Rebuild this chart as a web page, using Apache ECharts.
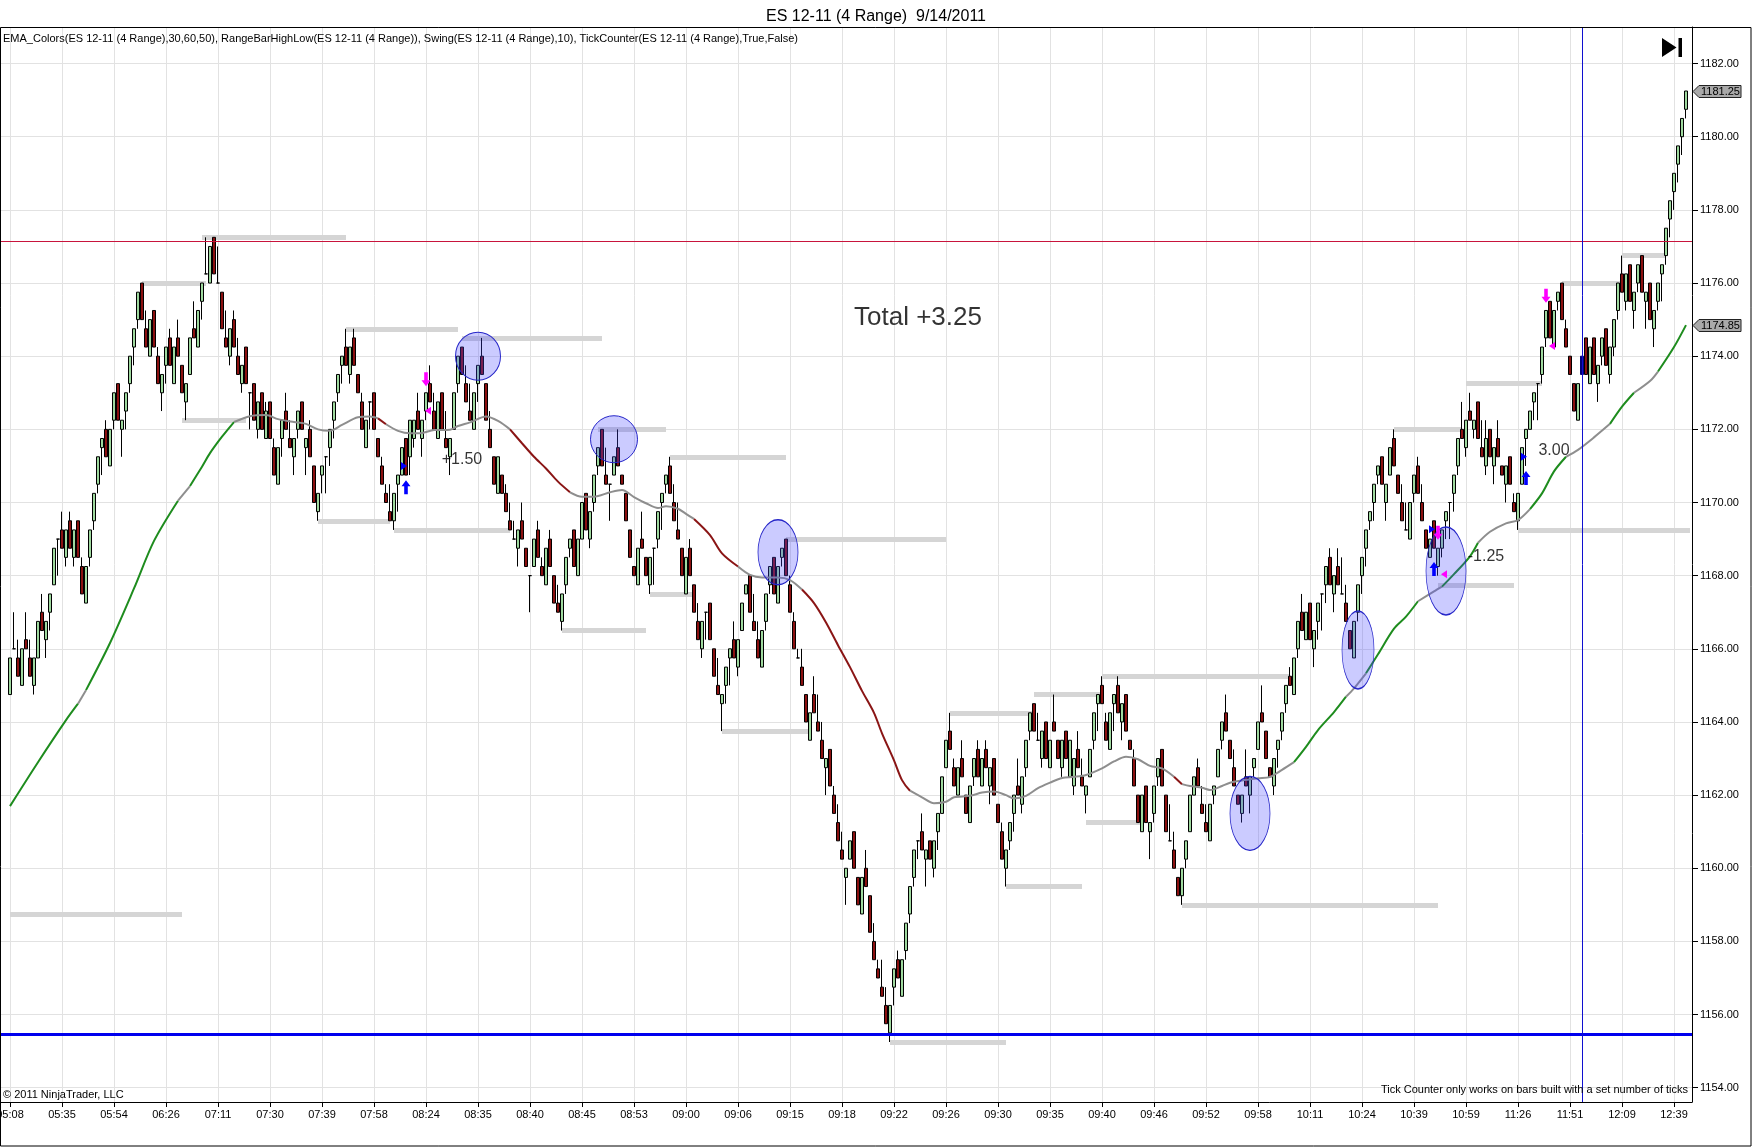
<!DOCTYPE html>
<html>
<head>
<meta charset="utf-8">
<script src="https://cdn.jsdelivr.net/npm/echarts@6.0.0/dist/echarts.min.js"></script>
<style>
html,body{margin:0;padding:0;background:#fff;}
#chart{width:1752px;height:1147px;}
</style>
</head>
<body>
<div id="chart"></div>
<script>
// ---------------- DATA ----------------
const titleText = 'ES 12-11 (4 Range)  9/14/2011';
const indicatorText = 'EMA_Colors(ES 12-11 (4 Range),30,60,50), RangeBarHighLow(ES 12-11 (4 Range)), Swing(ES 12-11 (4 Range),10), TickCounter(ES 12-11 (4 Range),True,False)';
const timeLabels = ['05:08','05:35','05:54','06:26','07:11','07:30','07:39','07:58','08:24','08:35','08:40','08:45','08:53','09:00','09:06','09:15','09:18','09:22','09:26','09:30','09:35','09:40','09:46','09:52','09:58','10:11','10:24','10:39','10:59','11:26','11:51','12:09','12:39'];
const yTicks = [1154,1156,1158,1160,1162,1164,1166,1168,1170,1172,1174,1176,1178,1180,1182];

const open = [
1164.75,1166,1165.75,1165,1166.25,1165.75,1165,1165.75,1167,1166.25,
1167,1167.75,1169,1169.25,1168.5,1169.5,1168.5,1169.5,1168.25,1167.25,
1168.5,1169.5,1170.5,1171.5,1172,1171,1172.25,1173.25,1172,1172.5,
1173.25,1174.25,1175,1176,1174.75,1174,1175.25,1174,1173,1173.75,
1174.5,1173.25,1174.5,1173.75,1172.75,1173.5,1174.75,1174.25,1175.5,1176.25,
1176,1177.25,1176,1175.75,1174.5,1174,1175,1174,1173.25,1174.25,
1173,1173.25,1172,1173,1171.75,1172.75,1171.5,1170.5,1171.75,1172.5,
1171.75,1171.25,1172,1172.75,1171.5,1172,1171,1169.75,1170.75,1171.25,
1171.5,1172.25,1173,1173.75,1174.25,1173.5,1174.5,1173.5,1172.75,1171.5,
1172.75,1173,1171.75,1171,1170.25,1169.75,1169.5,1170.5,1170.75,1171.75,
1171.25,1171.75,1172.5,1171.75,1172.5,1173.25,1172.5,1171.75,1173,1171.75,
1171.25,1172,1173.25,1174.25,1173.25,1172.5,1172,1173.25,1174,1173.25,
1172,1171.25,1170.25,1170.75,1170.25,1169.5,1169,1168.75,1169.5,1168.75,
1168,1168.25,1169.25,1168.25,1167.75,1169,1168,1167.25,1166.75,1167.75,
1168.75,1169.25,1168,1169,1170.25,1169,1170,1171,1172,1170.75,
1170.5,1170.75,1171.5,1170.75,1170.25,1169.25,1168.25,1167.75,1169,1168.5,
1167.75,1168.75,1169,1170,1170.5,1171,1170,1169.25,1168.75,1167.5,
1168.75,1167.75,1166.75,1166,1167,1167.25,1166,1165,1164.5,1165,
1165.75,1166.25,1165.5,1166.5,1167.5,1168,1166.75,1166.25,1165.5,1166.75,
1167.75,1168.5,1167.25,1168.5,1169,1167.75,1166.75,1165.75,1165.5,1164.75,
1163.5,1164.75,1164,1163.5,1162.75,1163.25,1162,1161.25,1160.5,1159.75,
1160.25,1161,1159.75,1158.75,1160,1159.25,1158,1157.25,1156.75,1156.25,
1155.5,1156.75,1157.5,1156.5,1157.75,1158.75,1159.75,1160.75,1161,1160.25,
1160.75,1160,1161,1161.5,1162.75,1163.75,1162.75,1162,1163,1162,
1161.25,1162.5,1163.25,1162.25,1163.25,1162.25,1163,1161.75,1161,1160,
1160.75,1161.5,1162.25,1161.75,1162.75,1163.75,1164.5,1163.5,1163,1164,
1162.75,1164,1163.5,1162.75,1163.75,1162.5,1162.25,1163.25,1162.5,1162,
1162.5,1163.5,1164.5,1165,1164,1163.25,1164.5,1165,1164,1164.75,
1163.5,1163,1162,1161,1162.25,1161,1161.5,1162.5,1163.25,1162,
1160.75,1160.5,1159.75,1159.25,1160.25,1161,1162,1162.75,1161.75,1161.25,
1160.75,1162,1162.5,1163.5,1164.25,1163.5,1162.75,1162,1161.5,1162.5,
1162,1162.75,1163.25,1164.25,1163.75,1162.75,1162.25,1163.25,1163.75,1164.5,
1165.25,1164.75,1166,1167,1166.25,1167.25,1166,1166.75,1167.5,1167.75,
1168.5,1167.5,1168.25,1167.5,1167.25,1166.5,1165.75,1167,1168,1168.75,
1169.5,1170,1170.75,1171.25,1170,1170.75,1171.75,1170.75,1170,1169.25,
1169,1170.25,1171,1170,1169.25,1168.5,1169.5,1168.25,1168.75,1169.5,
1170,1170.25,1171,1172,1171.5,1172.5,1172,1172.75,1171.5,1171,
1172,1171,1171.75,1171,1170.5,1171.25,1170,1169.5,1170.5,1171.75,
1172,1172.75,1173.25,1173.5,1174.5,1175.5,1174.25,1175.5,1176,1174.75,
1174,1173.25,1172.25,1173.5,1174.5,1173.25,1174.5,1173.25,1174,1174.75,
1173.5,1174.25,1175.25,1176.25,1175.5,1176.5,1175.25,1176,1176.75,1175.5,
1176,1174.75,1175.5,1176.25,1176.75,1177.75,1178.5,1179.25,1180,1180.75
];
const close = [
1165.75,1166,1165.25,1166,1166,1165.25,1165.75,1166.75,1166.5,1166.75,
1167.5,1168.75,1169,1168.75,1169.25,1168.75,1169.25,1168.5,1167.5,1168.25,
1169.25,1170.25,1171.25,1171.75,1171.25,1172,1173,1172.25,1172.25,1173,
1174,1174.75,1175.75,1175,1174.25,1175,1174.25,1173.25,1173.5,1174.25,
1173.75,1174.25,1174,1173,1173.25,1174.5,1174.5,1175.25,1176,1176.25,
1177,1176.25,1176,1174.75,1174.25,1174.75,1174.25,1173.5,1173.75,1173.25,
1173,1172.25,1172.75,1172,1172.5,1171.75,1170.75,1171.5,1172.25,1172,
1171.5,1171.75,1172.5,1172,1171.75,1171.25,1170,1170.25,1171,1171.25,
1172,1172.75,1173.5,1174,1173.75,1174.25,1173.75,1173,1172,1172.25,
1172.75,1172,1171.25,1170.5,1170,1169.5,1170.25,1170.75,1171.5,1170.75,
1172.25,1172.25,1172,1172.25,1173,1172.75,1172,1172.75,1172,1171.5,
1171.75,1173,1174,1173.5,1172.75,1172.25,1173,1173.75,1173.5,1172.25,
1171.5,1170.5,1171.25,1170.25,1169.75,1169.25,1169,1169.25,1169,1168.25,
1168,1169,1168.5,1168,1168.75,1168.25,1167.25,1167,1167.5,1168.5,
1169,1168.25,1169,1170,1169.25,1169.75,1170.75,1171.5,1171,1170.5,
1170.5,1171.25,1171,1170.5,1169.5,1168.5,1168,1168.75,1168.75,1168,
1168.5,1168.75,1169.75,1170.25,1170.75,1170.25,1169.5,1169,1168,1168.5,
1168,1167,1166.25,1166.75,1167,1166.25,1165.25,1164.75,1164.75,1165.5,
1166,1165.75,1166.25,1167.25,1167.75,1167,1166.5,1165.75,1166.5,1167.5,
1168.25,1167.5,1168.25,1168.75,1168,1167,1166,1165.75,1165,1164,
1164.25,1164.25,1163.75,1163,1163,1162.25,1161.5,1160.75,1160.25,1160,
1160.75,1160,1159,1159.75,1159.5,1158.25,1157.5,1157,1156.5,1155.75,
1156.25,1157.25,1157,1157.5,1158.5,1159.5,1160.5,1160.75,1160.5,1160.5,
1160.25,1160.75,1161.5,1162.5,1163.5,1163.25,1162.25,1162.75,1162.5,1161.5,
1162.25,1163,1162.5,1163,1162.75,1162.75,1162,1161.25,1160.25,1160.5,
1161.25,1162,1162,1162.5,1163.5,1164.25,1163.75,1163.5,1163.75,1163,
1163.5,1163.75,1163,1163.5,1163,1163.5,1163,1162.75,1162.25,1162.25,
1163.25,1164.25,1164.75,1164.5,1163.5,1164.25,1164.75,1164.25,1164.5,1163.75,
1163.25,1162.25,1161.25,1162,1161.25,1161.25,1162.25,1163,1162.25,1161,
1160.75,1160,1159.25,1160,1160.75,1162,1162.5,1162.25,1161.5,1161,
1161.75,1162.25,1163.25,1164,1163.75,1163,1162.25,1161.75,1162,1162.25,
1162.5,1163,1164,1164,1163,1162.5,1163,1163.5,1164.25,1165,
1165,1165.75,1166.75,1166.5,1167,1166.25,1166.5,1167.25,1167.5,1168.25,
1167.75,1168,1167.75,1167.5,1166.75,1166,1166.75,1167.75,1168.5,1169.25,
1169.75,1170.5,1171,1170.5,1170.5,1171.5,1171,1170.25,1169.5,1169.25,
1170,1170.75,1170.25,1169.5,1168.75,1169,1168.75,1168.75,1169.25,1169.75,
1170,1170.75,1171.75,1171.75,1172.25,1172.25,1172.25,1171.75,1171.25,1171.75,
1171.25,1171.5,1171.25,1170.75,1171,1170.5,1169.75,1170.25,1171.5,1172,
1172.5,1173,1173.25,1174.25,1175.25,1174.5,1175.25,1175.75,1175,1174.25,
1173.5,1172.5,1173.25,1174,1173.5,1174.25,1173.5,1173.75,1174.5,1173.75,
1174.25,1175,1176,1175.75,1176.25,1175.5,1175.75,1176.5,1175.75,1175.75,
1175,1175.25,1176,1176.5,1177.5,1178.25,1179,1179.75,1180.5,1181.25
];
const high = [
1165.75,1167,1166.25,1166,1167,1166.25,1165.75,1166.75,1167.5,1166.75,
1167.5,1168.75,1169,1169.75,1169.25,1169.75,1169.25,1169.5,1168.5,1168.25,
1169.25,1170.25,1171.25,1171.75,1172.25,1172,1173,1173.25,1172.25,1173,
1174,1174.75,1175.75,1176,1175.25,1175,1175.25,1174.25,1173.5,1174.25,
1174.75,1174.25,1175,1173.75,1173.25,1174.5,1175.5,1175.25,1176,1177.25,
1177,1177.25,1177,1175.75,1175.25,1174.75,1175.25,1174.5,1173.75,1174.25,
1173,1173.25,1172.75,1173,1172.75,1172.75,1171.75,1171.5,1172.25,1173,
1172.25,1171.75,1172.5,1172.75,1171.75,1172.25,1171,1170.25,1171,1171.25,
1172,1172.75,1173.5,1174,1174.75,1174.25,1174.75,1173.5,1173,1172.25,
1172.75,1173,1171.75,1171.25,1170.5,1170.5,1170.25,1170.75,1171.5,1171.75,
1172.25,1172.25,1173,1172.25,1173,1173.75,1173,1172.75,1173,1172.5,
1171.75,1173,1174,1174.25,1173.75,1173.25,1173,1173.75,1174.5,1173.25,
1172.5,1171.25,1171.25,1170.75,1170.5,1170,1169.5,1169.25,1170,1168.75,
1168,1169,1169.5,1168.5,1168.75,1169.25,1168,1167.75,1167.5,1168.5,
1169,1169.25,1169,1170,1170.25,1169.75,1170.75,1171.5,1172,1171.5,
1170.5,1171.25,1172,1170.75,1170.25,1169.25,1168.25,1168.75,1169.75,1168.5,
1168.5,1168.75,1169.75,1170.25,1170.75,1171.25,1170.5,1170,1168.75,1168.5,
1169,1167.75,1167.25,1166.75,1167,1167.25,1166,1165.75,1164.75,1165.5,
1166,1166.75,1166.25,1167.25,1167.75,1168,1167.5,1166.75,1166.5,1167.5,
1168.25,1168.5,1168.25,1168.75,1169,1168,1167,1166,1166,1164.75,
1164.25,1165.25,1164.75,1164,1163,1163.25,1162.25,1161.75,1161,1160,
1160.75,1161,1159.75,1159.75,1160.5,1159.25,1158.5,1157.5,1157.5,1156.75,
1156.25,1157.25,1157.75,1157.5,1158.5,1159.5,1160.5,1160.75,1161.5,1160.5,
1160.75,1160.75,1161.5,1162.5,1163.5,1164.25,1163,1162.75,1163.5,1162,
1162.25,1163,1163.5,1163,1163.5,1162.75,1163,1161.75,1161.25,1160.5,
1161.25,1162,1163,1162.5,1163.5,1164.25,1164.5,1164.25,1163.75,1164,
1163.5,1164.75,1163.5,1163.5,1163.75,1163.5,1163,1163.75,1163,1162.25,
1163.25,1164.25,1164.75,1165.25,1164.25,1164.25,1164.75,1165.25,1164.5,1164.75,
1163.5,1163.25,1162,1162,1162.25,1161.25,1162.25,1163,1163.25,1162,
1161.75,1161,1159.75,1160,1160.75,1162,1162.5,1163,1162.25,1161.75,
1161.75,1162.25,1163.25,1164,1164.75,1163.5,1163.25,1162,1162,1163.25,
1162.5,1163,1164,1165,1163.75,1162.75,1163,1163.5,1164.25,1165,
1165.5,1165.75,1166.75,1167.5,1167,1167.25,1166.5,1167.25,1167.5,1168.25,
1168.75,1168,1168.75,1168.5,1167.75,1166.5,1166.75,1167.75,1168.5,1169.25,
1169.75,1170.5,1171,1171.25,1170.5,1171.5,1172,1170.75,1170.5,1170,
1170,1170.75,1171.25,1170.5,1169.25,1169,1169.5,1168.75,1169.25,1169.75,
1170,1170.75,1171.75,1172.75,1172.25,1173,1172.25,1172.75,1172.25,1172.25,
1172,1171.5,1172.25,1171,1171,1171.25,1170.25,1170.25,1171.5,1172,
1172.5,1173,1173.25,1174.25,1175.25,1175.5,1175.25,1175.75,1176,1175,
1174,1173.25,1173.25,1174,1174.5,1174.25,1174.5,1173.75,1174.5,1174.75,
1174.25,1175,1176,1176.75,1176.25,1176.5,1175.75,1176.5,1176.75,1175.75,
1176,1175.25,1176,1176.5,1177.5,1178.25,1179,1179.75,1180.5,1181.25
];
const low = [
1164.75,1166,1165.25,1165,1166,1165.25,1164.75,1165.75,1166.5,1165.75,
1166.5,1167.75,1168,1168.75,1168.25,1168.75,1168.25,1168.5,1167.5,1167.25,
1168.25,1169.25,1170.25,1170.75,1171.25,1171,1172,1172.25,1171.25,1172,
1173,1173.75,1174.75,1175,1174.25,1174,1174.25,1173.25,1172.5,1173.25,
1173.75,1173.25,1174,1173,1172.25,1173.5,1174.5,1174.25,1175,1176.25,
1176,1176.25,1176,1174.75,1174.25,1173.75,1174.25,1173.5,1173,1173.25,
1172,1172.25,1171.75,1172,1171.75,1171.75,1170.75,1170.5,1171.25,1172,
1171.5,1170.75,1171.75,1172,1170.75,1171.25,1170,1169.5,1170.25,1170.25,
1171,1171.75,1172.75,1173.25,1173.75,1173.25,1173.75,1173,1172,1171.5,
1172,1172,1171.25,1170.5,1170,1169.5,1169.25,1169.75,1170.75,1170.75,
1170.75,1171.5,1172,1171.25,1172.25,1172.75,1172,1171.75,1172,1171.5,
1170.75,1172,1173,1173.5,1172.75,1172.25,1172,1172.75,1173.5,1172.25,
1171.5,1170.5,1170.25,1170.25,1169.75,1169.25,1169,1168.25,1169,1168.25,
1167,1168.25,1168.5,1168,1167.75,1168.25,1167.25,1167,1166.5,1167.5,
1168.5,1168.25,1168,1169,1169.25,1168.75,1169.75,1170.75,1171,1170.5,
1169.5,1170.75,1171,1170.5,1169.5,1168.5,1168,1167.75,1168.75,1168,
1167.5,1167.75,1168.75,1169.25,1170.25,1170.25,1169.5,1169,1168,1167.5,
1168,1167,1166.25,1165.75,1166.25,1166.25,1165.25,1164.75,1163.75,1164.5,
1165,1165.75,1165.25,1166.5,1167.5,1167,1166.5,1165.75,1165.5,1166.5,
1167.5,1167.5,1167.25,1168.25,1168,1167,1166,1165.75,1165,1164,
1163.5,1164.25,1163.75,1163,1162,1162.25,1161.5,1160.75,1160.25,1159,
1160.25,1160,1159,1158.75,1159.5,1158.25,1157.5,1157,1156.5,1155.75,
1155.25,1156.25,1157,1156.5,1157.5,1158.5,1159.5,1160.25,1160.5,1159.5,
1160.25,1159.75,1160.5,1161.5,1162.75,1163.25,1162.25,1162,1162.5,1161.5,
1161.25,1162.25,1162.5,1162.25,1162.75,1161.75,1162,1161.25,1160.25,1159.5,
1160.5,1161,1162,1161.5,1162.5,1163.5,1163.75,1163.5,1162.75,1163,
1162.75,1163.75,1163,1162.5,1163,1162.5,1162,1162.75,1162.25,1161.5,
1162.5,1163.25,1163.75,1164.5,1163.5,1163.25,1163.75,1164.25,1163.5,1163.75,
1163.25,1162.25,1161.25,1161,1161.25,1160.25,1161.25,1162.25,1162.25,1161,
1160.75,1160,1159.25,1159,1160,1161,1162,1162.25,1161.5,1161,
1160.75,1161.75,1162.5,1163.25,1163.75,1163,1162.25,1161.75,1161.25,1162.25,
1161.5,1162.5,1163.25,1164,1163,1162.5,1162,1162.75,1163.5,1164.25,
1165,1164.75,1165.75,1166.5,1166.25,1166.25,1165.5,1166.25,1166.5,1167.25,
1167.75,1167,1167.75,1167.5,1166.75,1166,1165.75,1166.75,1167.5,1168.25,
1169.25,1169.5,1170.5,1170.5,1169.5,1170.75,1171,1170.25,1169.5,1169.25,
1169,1170,1170.25,1169.5,1168.75,1168.5,1168.75,1168,1168.5,1169,
1169,1169.75,1170.75,1171.75,1171.25,1172.25,1171.75,1171.75,1171.25,1170.75,
1171.25,1170.5,1171.25,1170.75,1170,1170.5,1169.75,1169.25,1170.5,1171,
1172,1172.25,1172.25,1173.25,1174.25,1174.5,1174.25,1175.25,1175,1174.25,
1173.5,1172.5,1172.25,1173.5,1173.5,1173.25,1173.5,1172.75,1173.75,1173.75,
1173.25,1174,1175,1175.75,1175.25,1175.5,1174.75,1175.75,1175.75,1174.75,
1175,1174.25,1175.25,1175.5,1176.5,1177.25,1178,1178.75,1179.5,1180.5
];

// EMA (at sample bars)
const emaBars = [0,7,14,17,19,25,31,36,42,45,48,50,53,56,60,64,67,71,74,77,80,83,87,90,92,94,97,100,103,106,110,112,115,119,122,125,128,131,134,137,140,143,146,150,153,156,159,162,164,167,169,171,175,178,182,185,188,192,195,198,201,204,207,210,213,216,218,221,223,225,228,231,234,236,240,243,246,249,251,254,257,260,263,266,269,273,276,279,282,285,288,291,293,295,298,300,303,305,308,312,315,318,321,324,327,331,334,336,339,342,346,349,352,356,358,361,365,367,370,374,377,380,383,386,389,392,396,400,403,406,410,412,416,419];
const emaValues = [1161.7,1162.9,1164.05,1164.5,1164.87,1166.16,1167.65,1168.95,1170.05,1170.45,1170.98,1171.35,1171.8,1172.2,1172.36,1172.39,1172.28,1172.2,1172.15,1172.0,1171.96,1172.12,1172.33,1172.35,1172.3,1172.14,1171.96,1171.89,1171.9,1171.98,1171.99,1172.09,1172.19,1172.35,1172.23,1172.0,1171.62,1171.25,1170.93,1170.57,1170.28,1170.16,1170.16,1170.28,1170.34,1170.15,1169.98,1169.85,1169.9,1169.83,1169.69,1169.55,1169.11,1168.61,1168.25,1168.02,1167.95,1167.95,1167.88,1167.62,1167.25,1166.72,1166.1,1165.5,1164.85,1164.25,1163.69,1162.95,1162.41,1162.12,1161.94,1161.78,1161.82,1161.94,1161.98,1162.07,1162.1,1162.0,1161.91,1161.98,1162.19,1162.34,1162.47,1162.5,1162.55,1162.73,1162.92,1163.05,1162.98,1162.8,1162.73,1162.5,1162.3,1162.25,1162.2,1162.14,1162.25,1162.34,1162.4,1162.46,1162.5,1162.69,1162.9,1163.32,1163.78,1164.27,1164.69,1164.92,1165.33,1165.85,1166.55,1166.88,1167.3,1167.57,1167.7,1168.04,1168.53,1168.9,1169.2,1169.43,1169.52,1169.82,1170.25,1170.85,1171.25,1171.44,1171.78,1172.15,1172.62,1173.0,1173.32,1173.58,1174.25,1174.85];
// EMA colour state per stretch of bars: [fromBar, toBar, trend]
const emaTrend = [[0,17,'up'],[17,19,'flat'],[19,42,'up'],[42,45,'flat'],[45,56,'up'],[56,92,'flat'],[92,94,'down'],[94,125,'flat'],[125,140,'down'],[140,171,'flat'],[171,182,'down'],[182,198,'flat'],[198,225,'down'],[225,291,'flat'],[291,293,'down'],[293,321,'flat'],[321,334,'up'],[334,339,'flat'],[339,352,'up'],[352,358,'flat'],[358,367,'up'],[367,380,'flat'],[380,389,'up'],[389,400,'flat'],[400,406,'up'],[406,412,'flat'],[412,419,'up']];

// Range bar high/low swing lines: [fromBar, toBar, price]
const swingLines = [[0,43,1158.75],[33,49,1176],[48,84,1177.25],[43,59,1172.25],[77,95,1169.5],[96,125,1169.25],[84,112,1174.75],[113,148,1174.5],[138,159,1166.5],[160,171,1167.5],[147,164,1172],[165,194,1171.25],[178,200,1163.75],[194,234,1169],[220,249,1155.25],[235,256,1164.25],[256,273,1164.75],[273,320,1165.25],[249,268,1159.5],[269,283,1161.25],[293,357,1159],[346,363,1172],[357,376,1167.75],[364,383,1173.25],[377,420,1169.25],[388,403,1176],[403,414,1176.75]];

const redLevel = 1177.15;
const blueLevel = 1155.45;
const cursorBar = 393;

// trade circles: [bar, price]
const circleCenters = [[117,1174.0],[151,1171.73],[192,1168.64],[310,1161.5],[337,1165.97],[359,1168.13]];
// trade markers: [bar, price]
const shortEntries = [[104,1173.37],[357,1169.17],[384,1175.65]];
const longEntries = [[99,1170.42],[356,1168.18],[379,1170.67]];
const shortExits = [[104,1172.51],[358,1168.04],[385,1174.28]];
const longExits = [[98,1171.0],[355,1169.27],[378,1171.25]];
// text notes: [bar, price, text]
const notes = [[227,1175.04,'Total +3.25'],[113,1171.16,'+1.50'],[386,1171.43,'3.00'],[369,1168.53,'-1.25']];

// ---------------- STYLE / LAYOUT ----------------
const circleSizes = [[45,48],[47,47],[40,65],[40,74],[32,78],[40,88]];
const noteFont = [26,16,16,16];
const PADL = 2, PADR = 1, LABEL_STEP = 13;
const FONT = 'Arial, "Liberation Sans", sans-serif';

const N = close.length;
const cats = Array.from({length: PADL + N + PADR}, (_, k) => String(k));
const isLabelCat = k => {
  const b = k - PADL;
  return b >= 0 && b % LABEL_STEP === 0 && b / LABEL_STEP < timeLabels.length;
};

const candleData = close.map((c, i) => {
  const item = {value: [i + PADL, open[i], c, low[i], high[i]]};
  if (i === cursorBar) item.itemStyle = {color: '#00007a', color0: '#00007a', borderColor: '#00007a', borderColor0: '#00007a'};
  return item;
});

const emaColor = {up: '#1e8c1e', down: '#8a1515', flat: '#8e8e8e'};
const emaSeries = emaTrend.map(([s, e, t]) => ({
  type: 'line',
  data: emaBars.map((b, j) => [b, emaValues[j]]).filter(p => p[0] >= s && p[0] <= e).map(p => [p[0] + PADL, p[1]]),
  smooth: 0.3, symbol: 'none', showSymbol: false, silent: true, z: 3,
  lineStyle: {color: emaColor[t], width: 2}
}));

const downArrow = 'path://M3,0 L7,0 L7,8 L10,8 L5,14 L0,8 L3,8 Z';
const upArrow = 'path://M5,0 L10,6 L7,6 L7,14 L3,14 L3,6 L0,6 Z';
const leftTri = 'path://M10,0 L10,10 L0,5 Z';
const rightTri = 'path://M0,0 L10,5 L0,10 Z';
const markerSeries = (pts, symbol, size, color, offset) => ({
  type: 'scatter', silent: true, z: 6,
  symbol, symbolSize: size, symbolOffset: offset || [0, 0],
  itemStyle: {color, opacity: 1},
  data: pts.map(p => [p[0] + PADL, p[1]])
});

const lastClose = close[N - 1];
const lastEma = emaValues[emaValues.length - 1];

const chart = echarts.init(document.getElementById('chart'), null, {renderer: 'canvas'});
const option = {
  animation: false,
  backgroundColor: '#fff',
  textStyle: {fontFamily: FONT},
  title: {text: titleText, left: 'center', top: 4, textStyle: {fontSize: 16, fontWeight: 'normal', color: '#000', fontFamily: FONT}},
  grid: {left: 0, right: 60, top: 27, bottom: 45, containLabel: false, outerBoundsMode: 'none'},
  xAxis: {
    type: 'category', data: cats, boundaryGap: true,
    axisLine: {show: true, lineStyle: {color: '#000', width: 1}},
    axisTick: {show: true, alignWithLabel: true, length: 5, interval: (k) => isLabelCat(k), lineStyle: {color: '#000'}},
    axisLabel: {show: true, interval: (k) => isLabelCat(k), formatter: (v, k) => timeLabels[(k - PADL) / LABEL_STEP], color: '#000', fontSize: 11, margin: 7, fontFamily: FONT},
    splitLine: {show: false}
  },
  yAxis: {
    type: 'value', position: 'right', min: 1153.61, max: 1183.0, scale: true,
    axisLine: {show: true, lineStyle: {color: '#000', width: 1}},
    axisTick: {show: true, length: 6, customValues: yTicks, lineStyle: {color: '#000'}},
    axisLabel: {show: true, customValues: yTicks, formatter: v => Number(v).toFixed(2), color: '#000', fontSize: 11, margin: 8, fontFamily: FONT},
    splitLine: {show: false}
  },
  series: [
    { // grid lines
      type: 'line', data: [], silent: true,
      markLine: {silent: true, z: 1, symbol: ['none', 'none'], label: {show: false}, animation: false,
        lineStyle: {color: '#e2e2e2', width: 1, type: 'solid'},
        data: timeLabels.map((_, j) => ({xAxis: PADL + j * LABEL_STEP})).concat(yTicks.map(v => ({yAxis: v})))}
    },
    { // swing lines
      type: 'line', data: [], silent: true,
      markLine: {silent: true, z: 1, symbol: ['none', 'none'], label: {show: false}, animation: false,
        lineStyle: {color: '#d5d5d5', width: 5, type: 'solid', cap: 'butt'},
        data: swingLines.map(([s, e, p]) => [{coord: [s + PADL, p]}, {coord: [e + PADL, p]}])}
    },
    {
      type: 'candlestick', data: candleData, encode: {x: 0, y: [1, 2, 3, 4]}, barWidth: 3, z: 2, silent: true,
      itemStyle: {color: '#9fd99f', color0: '#8b1010', borderColor: '#000', borderColor0: '#000', borderColorDoji: '#000', borderWidth: 1}
    },
    { // red level & blue levels
      type: 'line', data: [], silent: true,
      markLine: {silent: true, z: 4, symbol: ['none', 'none'], label: {show: false}, animation: false,
        data: [
          {yAxis: redLevel, lineStyle: {color: '#c8143c', width: 1, type: 'solid'}},
          {yAxis: blueLevel, lineStyle: {color: '#0000ee', width: 3, type: 'solid'}},
          {xAxis: cursorBar + PADL, lineStyle: {color: '#1010d0', width: 1, type: 'solid'}}
        ]}
    },
    ...emaSeries,
    { // trade circles
      type: 'scatter', silent: true, z: 5, symbol: 'circle',
      itemStyle: {color: 'rgba(70,70,255,0.28)', borderColor: '#2525c8', borderWidth: 1, opacity: 1},
      data: circleCenters.map((c, j) => ({value: [c[0] + PADL, c[1]], symbolSize: circleSizes[j]}))
    },
    markerSeries(shortEntries, downArrow, [9, 14], '#ff00ff'),
    markerSeries(longEntries, upArrow, [9, 14], '#0000ff'),
    markerSeries(shortExits, leftTri, [6, 8], '#ff00ff', [2, 0]),
    markerSeries(longExits, rightTri, [6, 8], '#0000ff', [2, 0]),
    { // notes
      type: 'scatter', silent: true, z: 7, symbolSize: 0,
      data: notes.map((n, j) => ({value: [n[0] + PADL, n[1]], label: {show: true, position: 'inside', formatter: n[2], fontSize: noteFont[j], color: '#000', fontFamily: FONT}}))
    }
  ],
  graphic: [
    {type: 'rect', silent: true, z: 100, shape: {x: 0.5, y: 27.5, width: 1750.5, height: 1118.5}, style: {fill: 'none', stroke: '#000', lineWidth: 1}},
    {type: 'text', silent: true, z: 100, x: 3, y: 39, style: {text: indicatorText, fill: '#000', fontSize: 11, fontFamily: FONT, align: 'left', verticalAlign: 'middle', textAlign: 'left', textVerticalAlign: 'middle'}},
    {type: 'text', silent: true, z: 100, x: 3, y: 1095, style: {text: '\u00a9 2011 NinjaTrader, LLC', fill: '#000', fontSize: 11, fontFamily: FONT, align: 'left', verticalAlign: 'middle', textAlign: 'left', textVerticalAlign: 'middle'}},
    {type: 'text', silent: true, z: 100, x: 1688, y: 1090, style: {text: 'Tick Counter only works on bars built with a set number of ticks', fill: '#000', fontSize: 11, fontFamily: FONT, align: 'right', verticalAlign: 'middle', textAlign: 'right', textVerticalAlign: 'middle'}},
    {type: 'polygon', silent: true, z: 100, shape: {points: [[1662, 38], [1676.5, 47.5], [1662, 57]]}, style: {fill: '#000'}},
    {type: 'rect', silent: true, z: 100, shape: {x: 1678.5, y: 38, width: 3.5, height: 19}, style: {fill: '#000'}}
  ]
};
chart.setOption(option);

// right-axis price markers (last close and last EMA), positioned through the y scale
const axisX = chart.convertToPixel({xAxisIndex: 0}, PADL + N + PADR - 1) + 2;
const markerEls = [lastClose, lastEma].map(v => {
  const y = Math.round(chart.convertToPixel({yAxisIndex: 0}, v)) + 0.5;
  return {
    type: 'group', silent: true, z: 101,
    children: [
      {type: 'polygon', shape: {points: [[axisX + 1, y], [axisX + 7, y - 6], [axisX + 49, y - 6], [axisX + 49, y + 6], [axisX + 7, y + 6]]},
        style: {fill: '#a9a9a9', stroke: '#222', lineWidth: 1}},
      {type: 'text', x: axisX + 9, y: y + 0.5, style: {text: v.toFixed(2), fill: '#000', fontSize: 11, fontFamily: FONT, align: 'left', verticalAlign: 'middle', textAlign: 'left', textVerticalAlign: 'middle'}}
    ]
  };
});
chart.setOption({graphic: option.graphic.concat(markerEls)});
</script>
</body>
</html>
